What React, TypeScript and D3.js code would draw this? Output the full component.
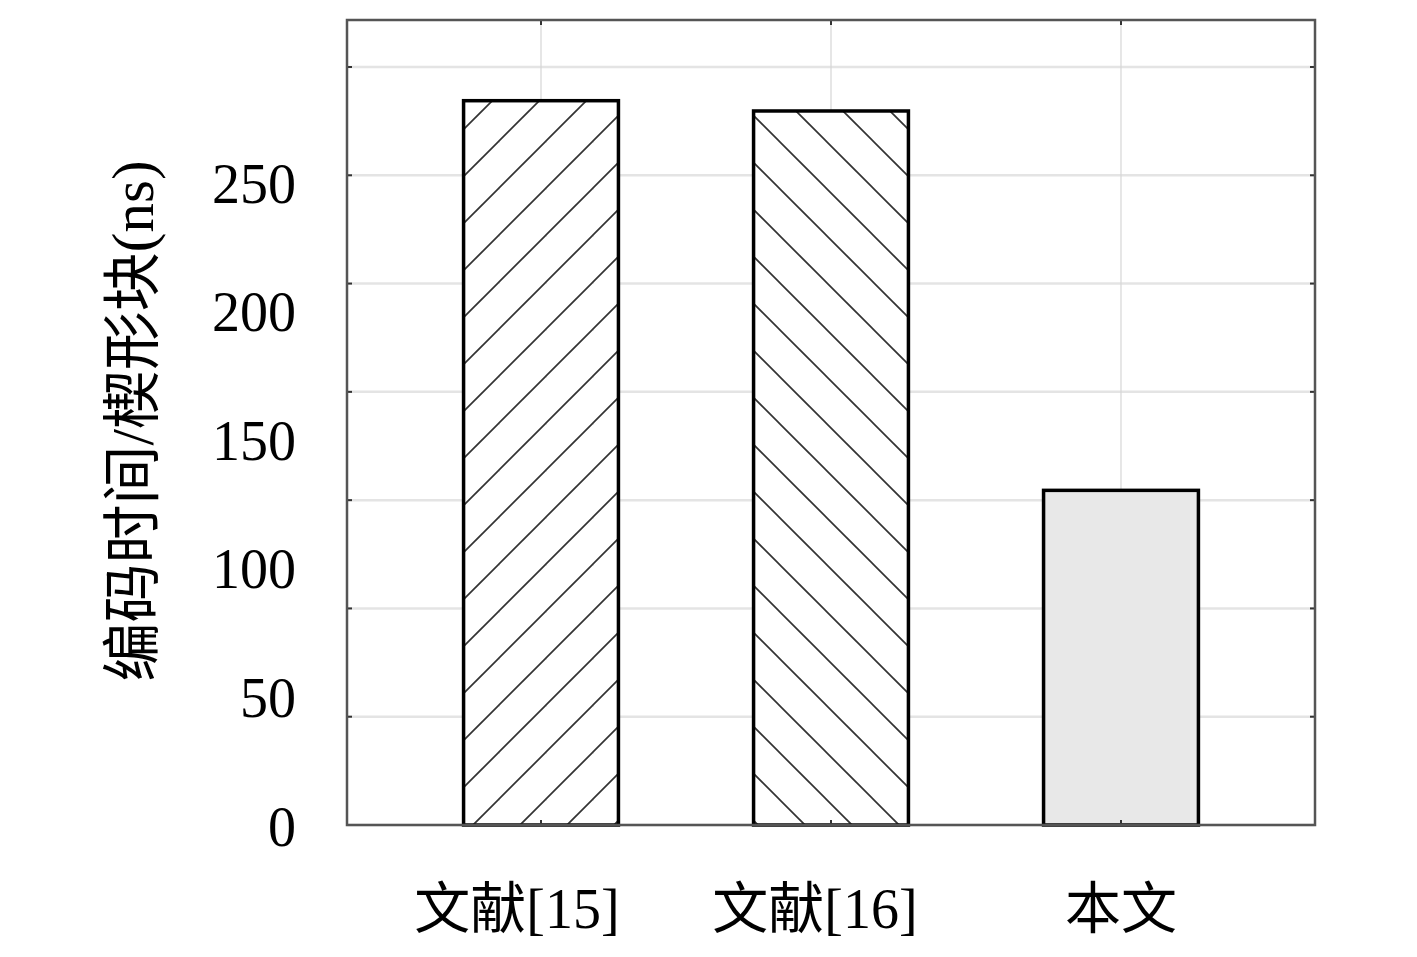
import React from "react";
import * as d3 from "d3";

const categories = ["文献[15]", "文献[16]", "本文"];
const values = [282, 278, 130.5];
const fills = ["hatchFwd", "hatchBack", "solid"];
const yTickLabels = [0, 50, 100, 150, 200, 250];
const gridValues = [0, 50, 100, 150, 200, 250, 300, 350];
const yAxisTitle = "编码时间/楔形块(ns)";

const W = 1417;
const H = 957;
const left = 347, right = 1315, top = 20, bottom = 825;
const labelNudge = [-24, -16, 0];

export default function App() {
  const x = d3.scalePoint<string>().domain(categories).range([left, right]).padding(0.669);
  const step = x.step();
  const barW = step * 0.534;
  // scale used for labels and bar values
  const y = d3.scaleLinear().domain([0, 250]).range([826, 183]);
  // gridline positions (original figure's grid does not align with labels)
  const g = d3.scaleLinear().domain([0, 350]).range([bottom, 67]);
  const serif = "'Liberation Serif', 'DejaVu Serif', 'Noto Sans CJK SC', serif";
  const cjk = "'Liberation Serif', 'Noto Sans CJK SC', serif";

  return (
    <svg width={W} height={H} style={{ position: "absolute", left: 0, top: 0, background: "#fff" }}>
      <defs>
        <pattern id="hatchFwd" patternUnits="userSpaceOnUse" width={47} height={47} patternTransform="translate(29,0)">
          <rect width={47} height={47} fill="#fff" />
          <line x1={0} y1={47} x2={47} y2={0} stroke="#333" strokeWidth={1.7} />
          <line x1={-4} y1={4} x2={4} y2={-4} stroke="#333" strokeWidth={1.7} />
          <line x1={43} y1={51} x2={51} y2={43} stroke="#333" strokeWidth={1.7} />
        </pattern>
        <pattern id="hatchBack" patternUnits="userSpaceOnUse" width={47} height={47} patternTransform="translate(27,0)">
          <rect width={47} height={47} fill="#fff" />
          <line x1={0} y1={0} x2={47} y2={47} stroke="#333" strokeWidth={1.7} />
          <line x1={-4} y1={43} x2={4} y2={51} stroke="#333" strokeWidth={1.7} />
          <line x1={43} y1={-4} x2={51} y2={4} stroke="#333" strokeWidth={1.7} />
        </pattern>
      </defs>

      {/* horizontal grid */}
      {gridValues.map((v) => (
        <line key={"hg" + v} x1={left} x2={right} y1={g(v)} y2={g(v)} stroke="#e4e4e4" strokeWidth={2.5} />
      ))}
      {/* vertical grid */}
      {categories.map((c) => (
        <line key={"vg" + c} x1={x(c)} x2={x(c)} y1={top} y2={bottom} stroke="#d6d6d6" strokeWidth={1.2} />
      ))}

      {/* bars */}
      {categories.map((c, i) => {
        const cx = x(c)!;
        return (
          <rect
            key={"bar" + c}
            x={cx - barW / 2}
            y={y(values[i])}
            width={barW}
            height={y(0) - y(values[i]) - 1}
            fill={fills[i] === "solid" ? "#e8e8e8" : `url(#${fills[i]})`}
            stroke="#000"
            strokeWidth={3.5}
          />
        );
      })}

      {/* ticks */}
      {gridValues.map((v) => (
        <g key={"tk" + v}>
          <line x1={left} x2={left + 5} y1={g(v)} y2={g(v)} stroke="#333" strokeWidth={2} />
          <line x1={right - 5} x2={right} y1={g(v)} y2={g(v)} stroke="#333" strokeWidth={2} />
        </g>
      ))}
      {categories.map((c) => (
        <g key={"tx" + c}>
          <line x1={x(c)} x2={x(c)} y1={top} y2={top + 5} stroke="#333" strokeWidth={2} />
          <line x1={x(c)} x2={x(c)} y1={bottom - 5} y2={bottom} stroke="#333" strokeWidth={2} />
        </g>
      ))}

      {/* frame */}
      <rect x={left} y={top} width={right - left} height={bottom - top} fill="none" stroke="#555" strokeWidth={2.5} />

      {/* y tick labels */}
      {yTickLabels.map((v) => (
        <text key={"yl" + v} x={296} y={y(v)} dy="0.35em" textAnchor="end" fontFamily={serif} fontSize={56} fill="#000">
          {v}
        </text>
      ))}

      {/* x labels */}
      {categories.map((c, i) => (
        <text key={"xl" + c} x={x(c)! + labelNudge[i]} y={908} dy="0.35em" textAnchor="middle" fontFamily={cjk} fontSize={56} fill="#000">
          {c}
        </text>
      ))}

      {/* y axis title */}
      <text
        transform={`translate(132, 421) rotate(-90)`}
        textAnchor="middle"
        dy="0.35em"
        fontFamily={cjk}
        fontSize={59}
        fill="#000"
      >
        {yAxisTitle}
      </text>
    </svg>
  );
}
